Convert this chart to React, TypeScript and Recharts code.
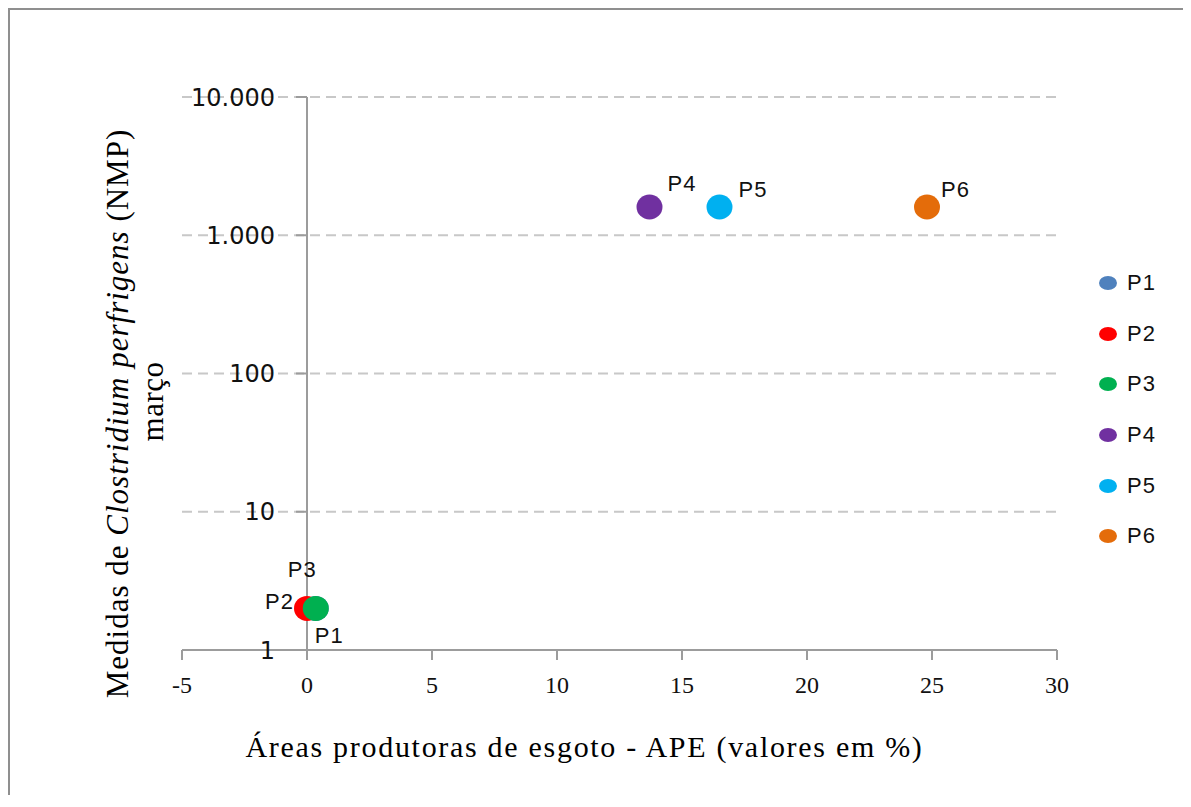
import {
  ScatterChart,
  Scatter,
  XAxis,
  YAxis,
  CartesianGrid,
  ReferenceLine,
  Legend,
  LabelList,
} from 'recharts'

// pontos de coleta, APE (%) e Clostridium perfringens (NMP) em março
const pointNames = ['P1', 'P2', 'P3', 'P4', 'P5', 'P6']
const apeValues = [0.35, 0, 0.35, 13.7, 16.5, 24.8]
const clostridiumValues = [2, 2, 2, 1600, 1600, 1600]
const xTicks = [-5, 0, 5, 10, 15, 20, 25, 30]
const yTicks = [1, 10, 100, 1000, 10000]

const pointColors = ['#4f81bd', '#ff0000', '#00b050', '#7030a0', '#00b0f0', '#e46c0a']

// where each data label sits relative to its marker
const labelPlacement: Record<string, { anchor: 'start' | 'end'; dx: number; dy: number }> = {
  P1: { anchor: 'start', dx: -1, dy: 35 },
  P2: { anchor: 'end', dx: -13, dy: 1 },
  P3: { anchor: 'end', dx: 1, dy: -31 },
  P4: { anchor: 'start', dx: 18, dy: -16 },
  P5: { anchor: 'start', dx: 19, dy: -10 },
  P6: { anchor: 'start', dx: 14, dy: -10 },
}

const CHART_W = 1178
const CHART_H = 785
const MARGIN = { top: 87, right: 131, bottom: 115, left: 112 }
const Y_AXIS_W = 60
const PLOT_W = CHART_W - MARGIN.left - MARGIN.right - Y_AXIS_W
const X_MIN = xTicks[0]
const X_MAX = xTicks[xTicks.length - 1]
// the value axis crosses the category axis at x = 0
const Y_SHIFT = (PLOT_W * (0 - X_MIN)) / (X_MAX - X_MIN)

const axisGray = '#9c9c9c'
const serif = '"Liberation Serif", "Times New Roman", serif'
const sans = '"Liberation Sans", Arial, sans-serif'

function formatThousands(v: number) {
  return String(v).replace(/\B(?=(\d{3})+(?!\d))/g, '.')
}

function YTick(props: any) {
  const { x, y, payload } = props
  const ax = x + Y_SHIFT
  return (
    <g>
      <line x1={ax - 11} x2={ax} y1={y} y2={y} stroke={axisGray} strokeWidth={2} />
      <text
        x={ax - 32}
        y={y}
        dy="0.36em"
        textAnchor="end"
        fill="#111"
        fontFamily={'"DejaVu Sans", sans-serif'}
        fontSize={24}
      >
        {formatThousands(payload.value)}
      </text>
    </g>
  )
}

function YTitle(props: any) {
  const vb = props.viewBox
  const cx = vb.x + 6
  const cy = vb.y + vb.height / 2 + 40
  const cx2 = cx + 35
  const cy2 = cy - 12
  return (
    <g fontFamily={serif} fontSize={31} fill="#000">
      <text
        transform={`rotate(-90, ${cx}, ${cy})`}
        x={cx}
        y={cy}
        textAnchor="middle"
        letterSpacing={1}
      >
        Medidas de <tspan fontStyle="italic">Clostridium perfrigens</tspan> (NMP)
      </text>
      <text
        transform={`rotate(-90, ${cx2}, ${cy2})`}
        x={cx2}
        y={cy2}
        textAnchor="middle"
        letterSpacing={0.5}
      >
        março
      </text>
    </g>
  )
}

function XTitle(props: any) {
  const vb = props.viewBox
  return (
    <text
      x={vb.x + vb.width / 2 - 35}
      y={vb.y + 107}
      textAnchor="middle"
      fontFamily={serif}
      fontSize={30}
      letterSpacing={1.7}
      fill="#000"
    >
      Áreas produtoras de esgoto - APE (valores em %)
    </text>
  )
}

function Dot(props: any) {
  const { cx, cy, fill } = props
  return <ellipse cx={cx} cy={cy} rx={13} ry={12.5} fill={fill} />
}

function PointLabel(props: any) {
  const vb = props.viewBox ?? props
  const cx = vb.x + (vb.width ?? 0) / 2
  const cy = vb.y + (vb.height ?? 0) / 2
  const place = labelPlacement[props.value] ?? { anchor: 'start', dx: 14, dy: -12 }
  return (
    <text
      x={cx + place.dx}
      y={cy + place.dy}
      textAnchor={place.anchor}
      fontFamily={sans}
      fontSize={22}
      letterSpacing={1}
      fill="#111"
    >
      {props.value}
    </text>
  )
}

function LegendList(props: any) {
  const { payload } = props
  return (
    <div style={{ fontFamily: sans, fontSize: 22, color: '#111' }}>
      {(payload || []).map((entry: any) => (
        <div
          key={entry.value}
          style={{ display: 'flex', alignItems: 'center', height: 50.6 }}
        >
          <span
            style={{
              display: 'inline-block',
              width: 18,
              height: 14,
              borderRadius: '50%',
              background: entry.color,
              marginRight: 10,
            }}
          />
          <span style={{ letterSpacing: 1 }}>{entry.value}</span>
        </div>
      ))}
    </div>
  )
}

export default function App() {
  return (
    <div
      style={{
        width: CHART_W,
        height: CHART_H,
        borderTop: '2px solid #8f8f8f',
        borderLeft: '2px solid #8f8f8f',
        borderRight: '2px solid #8f8f8f',
        background: '#fff',
      }}
    >
      <ScatterChart width={CHART_W} height={CHART_H} margin={MARGIN}>
        <CartesianGrid
          horizontal
          vertical={false}
          stroke="#c8c8c8"
          strokeWidth={2}
          strokeDasharray="10 6"
        />
        <XAxis
          type="number"
          dataKey="x"
          domain={[X_MIN, X_MAX]}
          ticks={xTicks}
          allowDataOverflow
          stroke={axisGray}
          axisLine={{ stroke: axisGray, strokeWidth: 2 }}
          tickLine={{ stroke: axisGray, strokeWidth: 2 }}
          tickSize={10}
          tickMargin={16}
          tick={{ fill: '#111', fontSize: 24, fontFamily: serif }}
          label={{ content: (p: any) => <XTitle {...p} /> }}
        />
        <YAxis
          type="number"
          dataKey="y"
          scale="log"
          domain={[1, 10000]}
          ticks={yTicks}
          allowDataOverflow
          width={Y_AXIS_W}
          axisLine={false}
          tickLine={false}
          tickSize={0}
          tickMargin={0}
          tick={<YTick />}
          label={{ content: (p: any) => <YTitle {...p} /> }}
        />
        <ReferenceLine x={0} stroke={axisGray} strokeWidth={2} />
        <Legend
          layout="vertical"
          align="center"
          verticalAlign="middle"
          wrapperStyle={{ left: 1089, top: 248, width: 80 }}
          content={(p: any) => <LegendList {...p} />}
        />
        {pointNames.map((name, i) => (
          <Scatter
            key={name}
            name={name}
            data={[{ x: apeValues[i], y: clostridiumValues[i], name }]}
            fill={pointColors[i]}
            legendType="circle"
            shape={(p: any) => <Dot {...p} fill={pointColors[i]} />}
            isAnimationActive={false}
          >
            <LabelList dataKey="name" content={(p: any) => <PointLabel {...p} />} />
          </Scatter>
        ))}
      </ScatterChart>
    </div>
  )
}
